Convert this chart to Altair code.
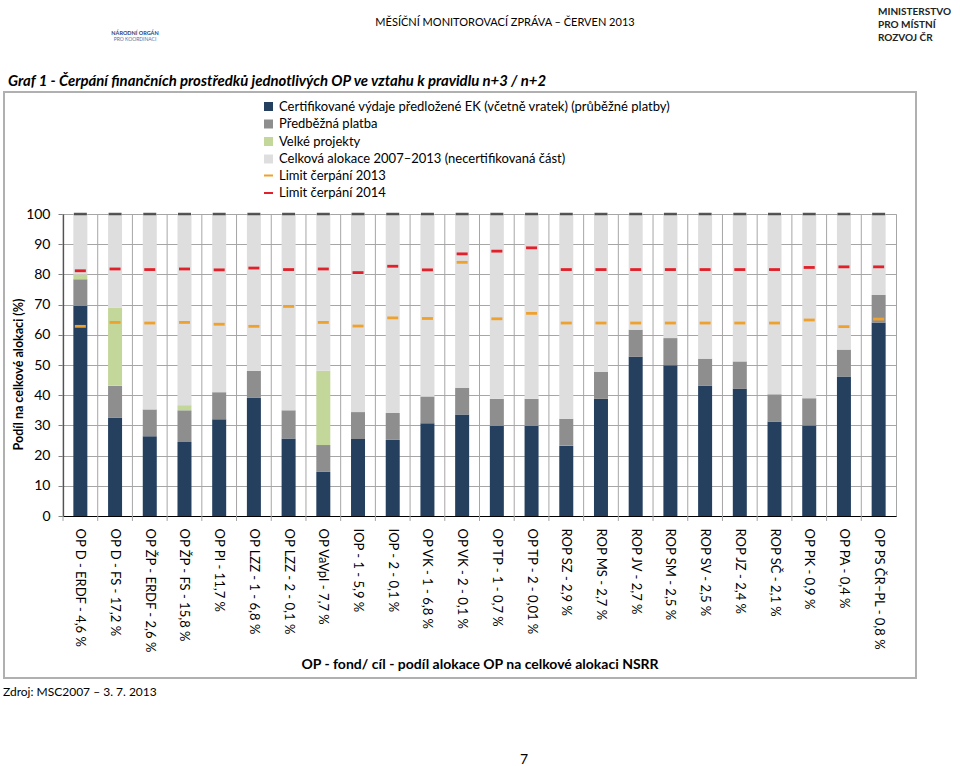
import altair as alt
import pandas as pd

FONT = "Lato"

categories = [
    "OP D - ERDF - 4,6 %", "OP D - FS - 17,2 %", "OP ŽP - ERDF - 2,6 %", "OP ŽP - FS - 15,8 %",
    "OP PI - 11,7 %", "OP LZZ - 1 - 6,8 %", "OP LZZ - 2 - 0,1 %", "OP VaVpI - 7,7 %",
    "IOP - 1 - 5,9 %", "IOP - 2 - 0,1 %", "OP VK - 1 - 6,8 %", "OP VK - 2 - 0,1 %",
    "OP TP - 1 - 0,7 %", "OP TP - 2 - 0,01 %", "ROP SZ - 2,9 %", "ROP MS - 2,7 %",
    "ROP JV - 2,7 %", "ROP SM - 2,5 %", "ROP SV - 2,5 %", "ROP JZ - 2,4 %",
    "ROP SČ - 2,1 %", "OP PK - 0,9 %", "OP PA - 0,4 %", "OP PS ČR–PL - 0,8 %",
]
certified = [69.5, 32.5, 26.4, 24.5, 32.0, 39.1, 25.7, 14.6, 25.5, 25.2, 30.7, 33.6,
             29.8, 29.8, 23.3, 38.8, 52.7, 49.9, 43.1, 42.1, 31.3, 30.0, 46.2, 64.1]
advance = [8.9, 10.6, 8.9, 10.5, 9.0, 9.0, 9.3, 8.9, 8.9, 8.9, 8.9, 8.8,
           9.0, 9.0, 8.9, 8.9, 9.0, 9.0, 9.0, 9.1, 9.0, 9.0, 8.9, 9.1]
large_projects = [1.6, 25.9, 0.0, 1.7, 0.0, 0.0, 0.0, 24.6, 0.0, 0.0, 0.0, 0.0,
                  0.0, 0.0, 0.0, 0.0, 0.0, 0.0, 0.0, 0.0, 0.0, 0.0, 0.0, 0.0]
limit_2013 = [62.8, 64.1, 63.9, 64.1, 63.5, 62.8, 69.4, 64.1, 62.9, 65.6, 65.4, 84.0,
              65.3, 67.1, 63.9, 63.9, 63.9, 63.9, 63.9, 63.9, 63.9, 64.9, 62.7, 65.2]
limit_2014 = [81.2, 81.8, 81.6, 81.8, 81.5, 82.1, 81.6, 81.8, 80.6, 82.7, 81.5, 86.8,
              87.7, 88.8, 81.6, 81.6, 81.6, 81.6, 81.6, 81.6, 81.6, 82.3, 82.5, 82.5]

series_names = [
    "Certifikované výdaje předložené EK (včetně vratek) (průběžné platby)",
    "Předběžná platba",
    "Velké projekty",
    "Celková alokace 2007–2013 (necertifikovaná část)",
]
series_colors = ["#25405F", "#8E8E8E", "#C4D79B", "#DEDEDE"]
limit_names = ["Limit čerpání 2013", "Limit čerpání 2014"]
limit_colors = ["#EFA12E", "#E0202A"]

y_ticks = list(range(0, 101, 10))
x_title = "OP - fond/ cíl - podíl alokace OP na celkové alokaci NSRR"
y_title = "Podíl na celkové alokaci (%)"

# ---- tables
bar_rows = []
for i, c in enumerate(categories):
    segs = [certified[i], advance[i], large_projects[i],
            100 - certified[i] - advance[i] - large_projects[i]]
    for k, s in enumerate(segs):
        bar_rows.append({"cat": c, "series": series_names[k], "ord": k, "v": s})
bars_df = pd.DataFrame(bar_rows)

lim_rows = []
for i, c in enumerate(categories):
    lim_rows.append({"cat": c, "lim": limit_names[0], "v": limit_2013[i]})
    lim_rows.append({"cat": c, "lim": limit_names[1], "v": limit_2014[i]})
lim_df = pd.DataFrame(lim_rows)

top_df = pd.DataFrame({"cat": categories, "v": [100] * len(categories)})
cat_df = pd.DataFrame({"cat": categories})

W, H = 833, 302
band = W / len(categories)

x_scale = alt.Scale(domain=categories, paddingInner=0, paddingOuter=0)
x_axis = alt.Axis(labelAngle=90, labelFontSize=13, labelFont=FONT, labelColor="#000000",
                  ticks=False, grid=False, domainColor="#000000", domainWidth=1.2,
                  labelPadding=12, labelLimit=300,
                  titleFont=FONT, titleFontSize=14, titleFontWeight="bold", titleColor="#000000",
                  titleY=148, titleBaseline="middle")
y_scale = alt.Scale(domain=[0, 100], nice=False)
y_axis = alt.Axis(values=y_ticks, labelFontSize=14, labelFont=FONT, labelColor="#000000",
                  tickSize=5, tickColor="#808080", domainColor="#000000", domainWidth=1.2,
                  gridColor="#A6A6A6", gridWidth=1, labelPadding=8,
                  titleFont=FONT, titleFontSize=12.5, titleFontWeight="bold", titleColor="#000000",
                  titleX=-45, titleY=H / 2 + 9, titleAlign="center", titleBaseline="middle", titleAngle=-90)


def X():
    return alt.X("cat:N", sort=categories, scale=x_scale, axis=x_axis, title=x_title)


def Y(stack=None):
    if stack:
        return alt.Y("v:Q", scale=y_scale, axis=y_axis, title=y_title, stack=stack)
    return alt.Y("v:Q", scale=y_scale, axis=y_axis, title=y_title)


vgrid = alt.Chart(cat_df).mark_rule(color="#A6A6A6", strokeWidth=1, xOffset=-band / 2).encode(
    x=X(), y=alt.value(0), y2=alt.value(H + 5)
)

legend_common = dict(orient="none", legendX=199, title=None,
                     labelFont=FONT, labelFontSize=13, labelColor="#000000",
                     labelLimit=600, rowPadding=3.5, labelOffset=4)

bars = alt.Chart(bars_df).mark_bar(size=14).encode(
    x=X(),
    y=Y(stack="zero"),
    color=alt.Color("series:N", scale=alt.Scale(domain=series_names, range=series_colors),
                    legend=alt.Legend(legendY=-114, symbolType="square", symbolSize=81,
                                      symbolStrokeWidth=0, **legend_common)),
    order=alt.Order("ord:Q", sort="ascending"),
)

tops = alt.Chart(top_df).mark_tick(color="#111111", size=13, thickness=2.5).encode(
    x=X(), y=Y()
)

limits = alt.Chart(lim_df).mark_rule(strokeWidth=2.8, xOffset=-5.5, x2Offset=5.5).encode(
    x=X(), x2=alt.X2("cat"), y=Y(),
    color=alt.Color("lim:N", scale=alt.Scale(domain=limit_names, range=limit_colors),
                    legend=alt.Legend(legendY=-45, symbolType="stroke", symbolSize=81,
                                      symbolStrokeWidth=2, **legend_common)),
)

# frame around chart
frame = alt.Chart(pd.DataFrame({"a": [0]})).mark_rect(filled=False, color="#B0B0B0", strokeWidth=2).encode(
    x=alt.value(-59), x2=alt.value(853), y=alt.value(-122), y2=alt.value(464)
)


def label(text, x, y, size, weight="normal", style="normal", align="left", color="#000000"):
    return alt.Chart(pd.DataFrame({"t": [text]})).mark_text(
        font=FONT, fontSize=size, fontWeight=weight, fontStyle=style, align=align,
        baseline="middle", color=color
    ).encode(x=alt.value(x), y=alt.value(y), text="t:N")


texts = [
    label("MĚSÍČNÍ MONITOROVACÍ ZPRÁVA – ČERVEN 2013", 442, -191, 11, align="center"),
    label("NÁRODNÍ ORGÁN", 72, -181, 5.5, weight="bold", align="center", color="#1F3F7F"),
    label("PRO KOORDINACI", 72, -175, 5, align="center", color="#5A6F9F"),
    label("MINISTERSTVO", 815, -202, 10, weight="bold", color="#222222"),
    label("PRO MÍSTNÍ", 815, -189, 10, weight="bold", color="#222222"),
    label("ROZVOJ ČR", 815, -176, 10, weight="bold", color="#222222"),
    label("Graf 1 - Čerpání finančních prostředků jednotlivých OP ve vztahu k pravidlu n+3 / n+2",
          -55, -132, 14.9, weight="bold", style="italic"),
    label("Zdroj: MSC2007 – 3. 7. 2013", -60, 478, 12),
    label("7", 457, 546, 14),
]

chart = alt.layer(vgrid, bars, tops, limits, frame, *texts).resolve_scale(
    color="independent"
).properties(
    width=W, height=H,
    autosize=alt.AutoSizeParams(type="none"),
    padding={"left": 63, "top": 214, "right": 64, "bottom": 250},
    background="#FFFFFF",
).configure_view(stroke="#A6A6A6", strokeWidth=1)

chart.save("out.html", embed_options={"renderer": "svg", "actions": False})
